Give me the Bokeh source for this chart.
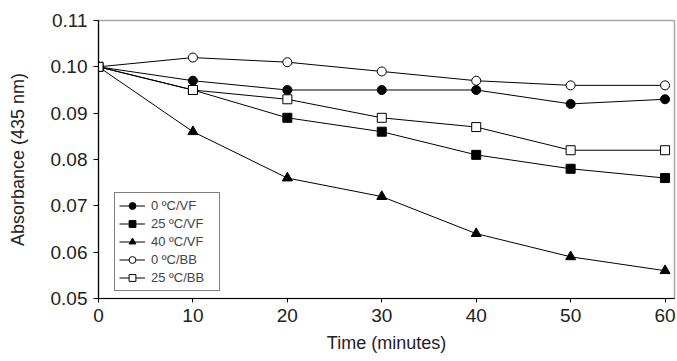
from bokeh.plotting import figure
from bokeh.models import Range1d, Legend, LegendItem, FixedTicker, NumeralTickFormatter
from bokeh.embed import file_html
from bokeh.resources import INLINE

time = [0, 10, 20, 30, 40, 50, 60]
vf_0 = [0.100, 0.097, 0.095, 0.095, 0.095, 0.092, 0.093]
vf_25 = [0.100, 0.095, 0.089, 0.086, 0.081, 0.078, 0.076]
vf_40 = [0.100, 0.086, 0.076, 0.072, 0.064, 0.059, 0.056]
bb_0 = [0.100, 0.102, 0.101, 0.099, 0.097, 0.096, 0.096]
bb_25 = [0.100, 0.095, 0.093, 0.089, 0.087, 0.082, 0.082]
labels = ["0 ºC/VF", "25 ºC/VF", "40 ºC/VF", "0 ºC/BB", "25 ºC/BB"]
x_ticks = [0, 10, 20, 30, 40, 50, 60]
y_ticks = [0.05, 0.06, 0.07, 0.08, 0.09, 0.10, 0.11]

FONT = "Liberation Sans"

p = figure(frame_width=576, frame_height=278, output_backend="svg",
           toolbar_location=None, x_range=Range1d(0, 61), y_range=Range1d(0.05, 0.11),
           min_border_left=98, min_border_right=3, min_border_top=20, min_border_bottom=63)
p.background_fill_color = "white"
p.border_fill_color = "white"
p.xgrid.visible = False
p.ygrid.visible = False
p.outline_line_color = "#a6a6a6"
p.outline_line_width = 1.5

series = [
    (vf_0, "circle", "black"),
    (vf_25, "square", "black"),
    (vf_40, "triangle", "black"),
    (bb_0, "circle", "white"),
    (bb_25, "square", "white"),
]
items = []
for (vals, marker, fill), lab in zip(series, labels):
    ln = p.line(time, vals, line_color="black", line_width=1)
    sz = 10 if marker == "triangle" else 9
    mk = p.scatter(time, vals, marker=marker, size=sz, fill_color=fill,
                   line_color="black", line_width=1)
    items.append(LegendItem(label=lab, renderers=[ln, mk]))

legend = Legend(items=items, location=(16, 7))
legend.label_text_font = FONT
legend.label_text_font_size = "13px"
legend.glyph_width = 26
legend.glyph_height = 17
legend.label_height = 17
legend.label_width = 64
legend.label_standoff = 6
legend.spacing = 1
legend.padding = 4
legend.margin = 0
legend.border_line_color = "black"
legend.border_line_width = 1
legend.background_fill_alpha = 1
p.add_layout(legend, "center")

for ax in (p.xaxis[0], p.yaxis[0]):
    ax.axis_line_color = "black"
    ax.axis_line_width = 1.2
    ax.major_tick_line_color = "black"
    ax.minor_tick_line_color = None
    ax.major_tick_in = 0
    ax.major_label_text_font = FONT
    ax.major_label_text_font_size = "19px"
    ax.major_label_text_color = "#222222"
    ax.axis_label_text_font = FONT
    ax.axis_label_text_font_size = "18px"
    ax.axis_label_text_font_style = "normal"
    ax.axis_label_text_color = "#222222"

p.xaxis.ticker = FixedTicker(ticks=x_ticks)
p.xaxis.major_tick_out = 4
p.xaxis.major_label_standoff = 6
p.xaxis.axis_label = "Time (minutes)"
p.xaxis.axis_label_standoff = 8

p.yaxis.ticker = FixedTicker(ticks=y_ticks)
p.yaxis.formatter = NumeralTickFormatter(format="0.00")
p.yaxis.major_tick_out = 5
p.yaxis.major_label_standoff = 6
p.yaxis.axis_label = "Absorbance (435 nm)"
p.yaxis.axis_label_standoff = 20

open("out.html", "w").write(file_html(p, INLINE))
